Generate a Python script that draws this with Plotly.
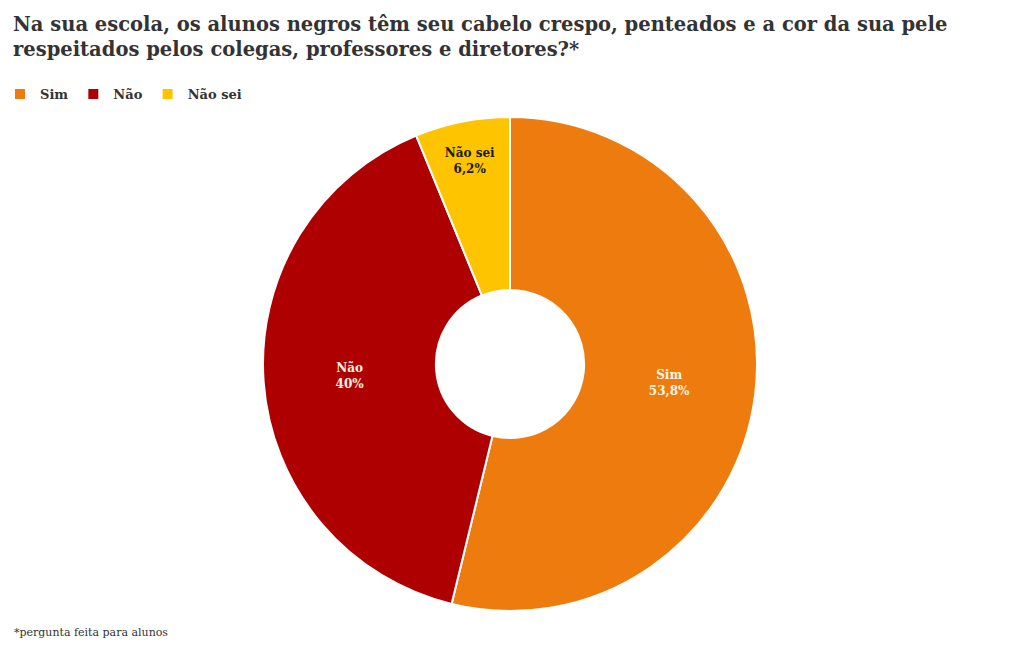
import plotly.graph_objects as go

labels = ["Sim", "Não", "Não sei"]
values = [53.8, 40.0, 6.2]
colors = ["#ee7b0e", "#ae0000", "#fec400"]
text_colors = ["#fff4e2", "#fff4e2", "#1a1a1a"]

title_text = ("Na sua escola, os alunos negros têm seu cabelo crespo, penteados e a cor da sua pele<br>"
              "respeitados pelos colegas, professores e diretores?*")
footnote = "*pergunta feita para alunos"

FONT = "DejaVu Serif"
W, H = 1020, 650
T, B = 117, 39
plot_h = H - T - B

pct_text = [f"{v:g}".replace(".", ",") + "%" for v in values]

fig = go.Figure(go.Pie(
    labels=labels,
    values=values,
    text=pct_text,
    texttemplate="<b>%{label}<br>%{text}</b>",
    textposition="inside",
    insidetextorientation="horizontal",
    hole=0.3,
    sort=False,
    direction="clockwise",
    rotation=0,
    marker=dict(colors=colors, line=dict(color="#ffffff", width=2)),
    textfont=dict(family=FONT, size=12, color=text_colors),
    showlegend=True,
))

fig.update_layout(
    width=W, height=H,
    margin=dict(l=0, r=0, t=T, b=B),
    paper_bgcolor="#ffffff",
    plot_bgcolor="#ffffff",
    font=dict(family=FONT, color="#333333"),
    legend=dict(
        orientation="h",
        x=0, xanchor="left", xref="container",
        y=1 - 79 / H, yanchor="top", yref="container",
        font=dict(family=FONT, size=13, color="#333333", weight="bold"),
        traceorder="normal",
        itemwidth=30,
    ),
    annotations=[
        dict(
            text="<b>" + title_text + "</b>",
            x=11 / W, y=(H - B - 11) / plot_h,
            xref="paper", yref="paper",
            xanchor="left", yanchor="top", align="left", showarrow=False,
            font=dict(family=FONT, size=19.5, color="#333333"),
        ),
        dict(
            text=footnote,
            x=12 / W, y=(H - B - 632) / plot_h,
            xref="paper", yref="paper",
            xanchor="left", yanchor="middle", showarrow=False,
            font=dict(family=FONT, size=11, color="#333333"),
        ),
    ],
)

fig.write_html("out.html")
